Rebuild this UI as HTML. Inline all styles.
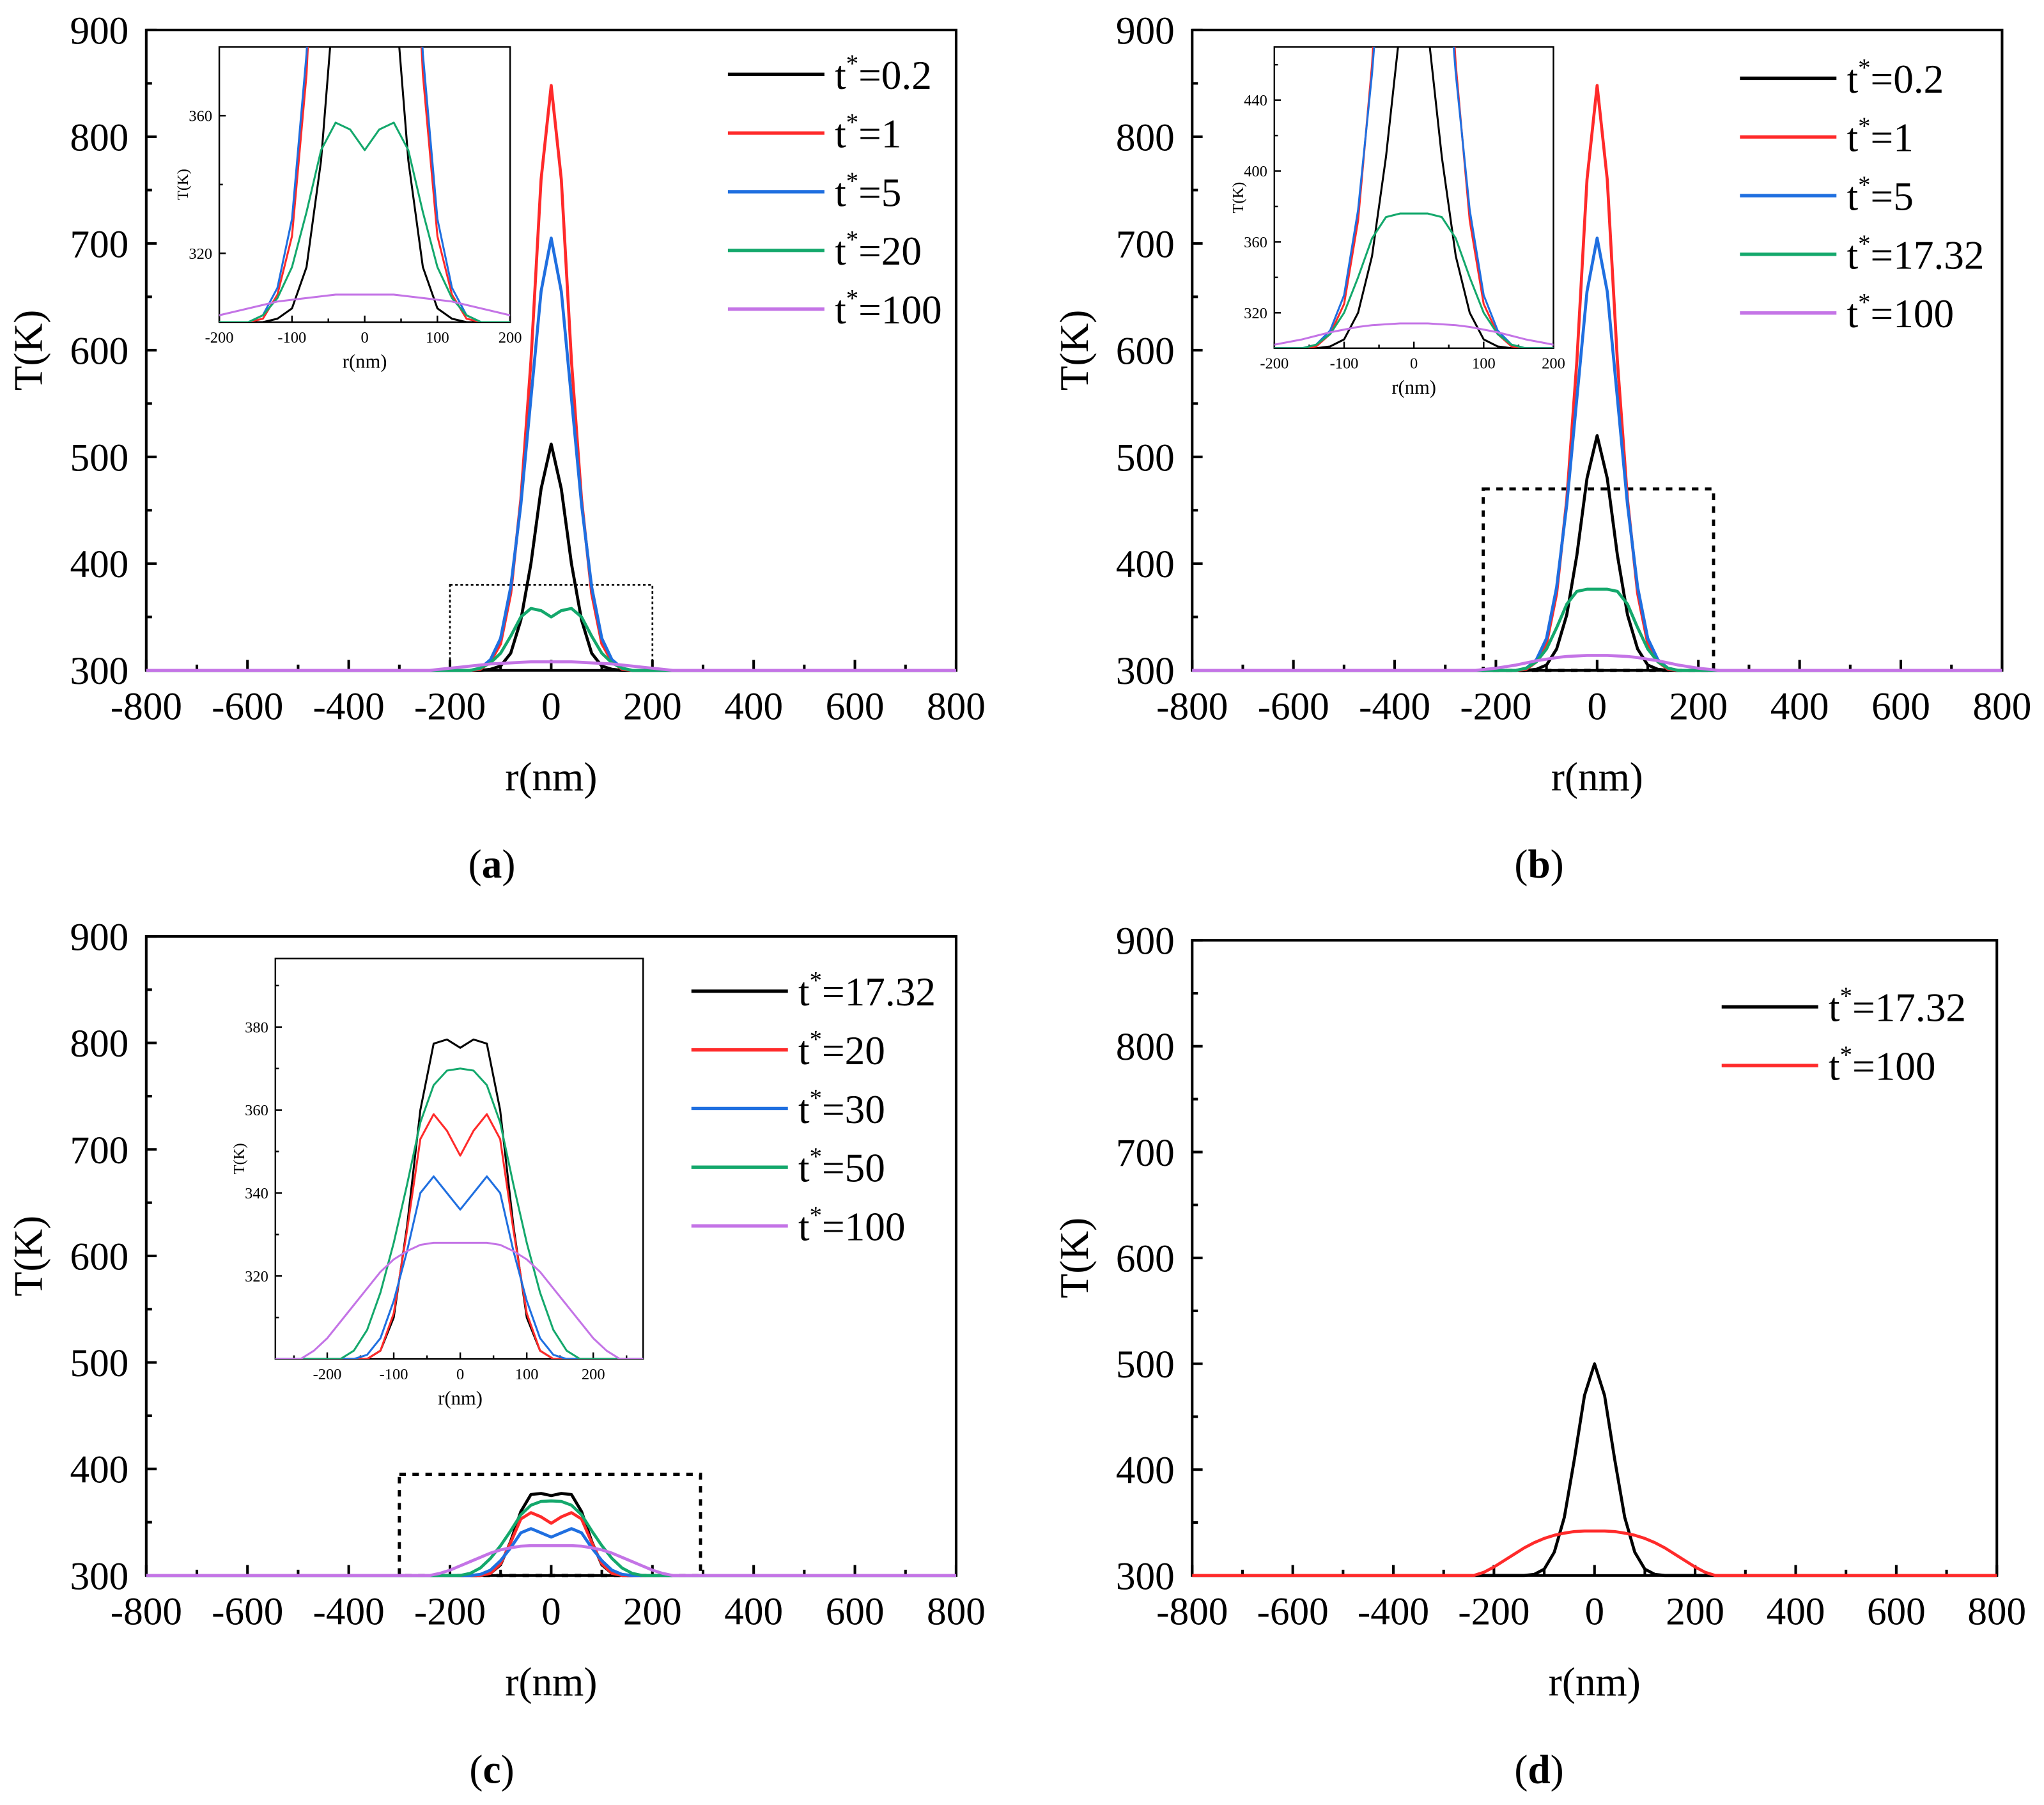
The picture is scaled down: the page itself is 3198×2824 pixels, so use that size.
<!DOCTYPE html>
<html><head><meta charset="utf-8"><style>
html,body{margin:0;padding:0;background:#fff}
svg{display:block}
svg text, svg tspan{font-family:"Liberation Serif","Times New Roman",serif !important}
</style></head><body>
<svg id="fig" xmlns="http://www.w3.org/2000/svg" width="3198" height="2824" viewBox="0 0 1567 1384" font-family="Liberation Serif, serif"></svg>
<script>
// shared r grid (nm)
const rGrid = [-800,-240,-220,-200,-180,-160,-140,-120,-100,-80,-60,-40,-20,0,20,40,60,80,100,120,140,160,180,200,220,240,800];
// panel (a)
const aT02  = [300,300,300,300,300,300,300,301,304,316,347,400,470,512,470,400,347,316,304,301,300,300,300,300,300,300,300];
const aT1   = [300,300,300,300,300,300,301,308,325,372,460,590,760,848,760,590,460,372,325,308,301,300,300,300,300,300,300];
const aT5   = [300,300,300,300,300,300,302,310,330,378,455,555,655,705,655,555,455,378,330,310,302,300,300,300,300,300,300];
const aT20  = [300,300,300,300,300,300,302,307,316,332,350,358,356,350,356,358,350,332,316,307,302,300,300,300,300,300,300];
const aT100 = [300,300,301,302,303,304,305,306,306.5,307,307.5,308,308,308,308,308,307.5,307,306.5,306,305,304,303,302,301,300,300];
// panel (b)
const bT02  = [300,300,300,300,300,300,300,301,305,320,352,408,480,520,480,408,352,320,305,301,300,300,300,300,300,300,300];
const bT1   = [300,300,300,300,300,300,301,308,325,372,460,590,760,848,760,590,460,372,325,308,301,300,300,300,300,300,300];
const bT5   = [300,300,300,300,300,300,302,310,330,378,455,555,655,705,655,555,455,378,330,310,302,300,300,300,300,300,300];
const bT1732= [300,300,300,300,300,300,302,308,320,340,362,374,376,376,376,374,362,340,320,308,302,300,300,300,300,300,300];
const bT100 = [300,300,301,302,303.5,305,307,309,310.5,312,313,313.5,314,314,314,313.5,313,312,310.5,309,307,305,303.5,302,301,300,300];
// panel (c)
const cT1732= [300,300,300,300,300,300,300,302,310,332,360,376,377,375,377,376,360,332,310,302,300,300,300,300,300,300,300];
const cT20  = [300,300,300,300,300,300,300,302,311,331,353,359,355,349,355,359,353,331,311,302,300,300,300,300,300,300,300];
const cT30  = [300,300,300,300,300,300,301,305,314,326,340,344,340,336,340,344,340,326,314,305,301,300,300,300,300,300,300];
const cT50  = [300,300,300,300,300,302,307,316,328,342,357,366,369.5,370,369.5,366,357,342,328,316,307,302,300,300,300,300,300];
const cT100 = [300,300,302,305,309,313,317,321,324,326,327.5,328,328,328,328,328,327.5,326,324,321,317,313,309,305,302,300,300];
// panel (d)
const dT1732= [300,300,300,300,300,300,300,301,306,322,355,410,470,500,470,410,355,322,306,301,300,300,300,300,300,300,300];
const dT100 = [300,300,303,308,314,320,326,331,335,338,340,341.5,342,342,342,341.5,340,338,335,331,326,320,314,308,303,300,300];
// ticks
const mainXTicks = [-800,-600,-400,-200,0,200,400,600,800];
const mainYTicks = [300,400,500,600,700,800,900];
const legendA = ["0.2","1","5","20","100"];
const legendB = ["0.2","1","5","17.32","100"];
const legendC = ["17.32","20","30","50","100"];
const legendD = ["17.32","100"];

const NS="http://www.w3.org/2000/svg";
const FF='"Liberation Serif", serif';
const svg=document.getElementById('fig');
const COL={k:"#000",r:"#ff2a2a",b:"#1f6fe0",g:"#14a86c",p:"#c474e6"};
let clipN=0;
function el(tag,attrs,parent){const e=document.createElementNS(NS,tag);for(const k in attrs)e.setAttribute(k,attrs[k]);(parent||svg).appendChild(e);return e;}
function txt(s,attrs,parent){attrs['font-family']=FF;const t=el('text',attrs,parent);t.textContent=s;return t;}

function axes(g,box,xd,yd,xt,xminor,yt,yminor,fs,tl,lw,xoff){
  const sx=v=>box.x+(v-xd[0])/(xd[1]-xd[0])*box.w;
  const sy=v=>box.y+box.h-(v-yd[0])/(yd[1]-yd[0])*box.h;
  const r=el('rect',{x:box.x,y:box.y,width:box.w,height:box.h,fill:'none',stroke:'#000','stroke-width':lw},g);
  
  xt.forEach(v=>{el('line',{x1:sx(v),x2:sx(v),y1:box.y+box.h,y2:box.y+box.h-tl,stroke:'#000','stroke-width':lw},g);
    const t=txt(String(v),{x:sx(v),y:box.y+box.h+fs*xoff,'font-size':fs,'text-anchor':'middle'},g);
    });
  xminor.forEach(v=>el('line',{x1:sx(v),x2:sx(v),y1:box.y+box.h,y2:box.y+box.h-tl*0.55,stroke:'#000','stroke-width':lw},g));
  yt.forEach(v=>{el('line',{x1:box.x,x2:box.x+tl,y1:sy(v),y2:sy(v),stroke:'#000','stroke-width':lw},g);
    const t=txt(String(v),{x:box.x-fs*0.45,y:sy(v)+fs*0.35,'font-size':fs,'text-anchor':'end'},g);
    });
  yminor.forEach(v=>el('line',{x1:box.x,x2:box.x+tl*0.55,y1:sy(v),y2:sy(v),stroke:'#000','stroke-width':lw},g));
  return {sx,sy};
}
function series(g,sc,rs,ts,color,w,name,clipBox){
  let d='';
  for(let i=0;i<rs.length;i++){d+=(i?'L':'M')+sc.sx(rs[i]).toFixed(2)+','+sc.sy(ts[i]).toFixed(2);}
  const p=el('path',{d:d,fill:'none',stroke:color,'stroke-width':w,'stroke-linejoin':'round'},g);
  
  if(clipBox){const id='cl'+(clipN++);const cp=el('clipPath',{id:id},svg);el('rect',{x:clipBox.x,y:clipBox.y,width:clipBox.w,height:clipBox.h},cp);p.setAttribute('clip-path','url(#'+id+')');}
}
function legend(g,x,y0,dy,labels,colors){
  labels.forEach((l,i)=>{const y=y0+i*dy;
    const ln=el('line',{x1:x,x2:x+74,y1:y,y2:y,stroke:colors[i],'stroke-width':2.6},g);
    
    const t=el('text',{x:x+82,y:y+11,'font-size':31,'font-family':FF},g);
    
    const a=el('tspan',{},t);a.textContent='t';
    const b=el('tspan',{dy:-13,'font-size':19},t);b.textContent='*';
    const c=el('tspan',{dy:13},t);c.textContent='='+l;});
}
function mainPanel(name,box,label,caption,list,leg,dash){
  const g=el('g',{});
  const sc=axes(g,box,[-800,800],[300,900],mainXTicks,[-700,-500,-300,-100,100,300,500,700],mainYTicks,[350,450,550,650,750,850],30,8,2,1.25);
  if(dash){const dr=el('rect',{x:sc.sx(dash[0]),y:sc.sy(dash[2]),width:sc.sx(dash[1])-sc.sx(dash[0]),height:sc.sy(300)-sc.sy(dash[2]),fill:'none',stroke:'#000','stroke-width':dash[3],'stroke-dasharray':dash[4]},g);
    }
  list.forEach(s=>series(g,sc,rGrid,s[0],s[1],2.3,'series-'+s[2]));
  const xt=txt('r(nm)',{x:box.x+box.w/2,y:box.y+box.h+92,'font-size':31,'text-anchor':'middle'},g);
  
  const cx=box.x-80,cy=box.y+box.h/2;
  const yt=txt('T(K)',{x:cx,y:cy,'font-size':31,'text-anchor':'middle',transform:'rotate(-90 '+cx+' '+cy+')'},g);
  
  const cap=el('text',{x:caption[0],y:caption[1],'font-size':31,'text-anchor':'middle','font-family':FF},g);
  
  const c1=el('tspan',{},cap);c1.textContent='(';const c2=el('tspan',{'font-weight':'bold'},cap);c2.textContent=label;const c3=el('tspan',{},cap);c3.textContent=')';
  legend(g,leg[0],leg[1],45,leg[2],list.map(s=>s[1]));
  return g;
}
function inset(g,box,xd,yd,xt,xminor,yt,yminor,list,name){
  const ig=el('g',{},g);
  el('rect',{x:box.x,y:box.y,width:box.w,height:box.h,fill:'#fff'},ig);
  const sc=axes(ig,box,xd,yd,xt,xminor,yt,yminor,12,5,1.2,1.3);
  list.forEach(s=>series(ig,sc,rGrid,s[0],s[1],1.5,'inset-series-'+s[2],box));
  const xt2=txt('r(nm)',{x:sc.sx(0),y:box.y+box.h+35,'font-size':15,'text-anchor':'middle'},ig);
  
  const cx=box.x-24,cy=box.y+box.h/2;
  const yt2=txt('T(K)',{x:cx,y:cy,'font-size':12,'text-anchor':'middle',transform:'rotate(-90 '+cx+' '+cy+')'},ig);
  
}
// Panel a
const listA=[[aT02,COL.k,'t0.2'],[aT1,COL.r,'t1'],[aT5,COL.b,'t5'],[aT20,COL.g,'t20'],[aT100,COL.p,'t100']];
const gA=mainPanel('a',{x:112,y:23,w:621,h:491},'a',[377,673],listA,[558,57,legendA],[-200,200,380,1.3,'2,2']);
inset(gA,{x:168,y:36,w:223,h:211},[-200,200],[300,380],[-200,-100,0,100,200],[-150,-50,50,150],[320,360],[340],listA,'a');
// Panel b
const listB=[[bT02,COL.k,'t0.2'],[bT1,COL.r,'t1'],[bT5,COL.b,'t5'],[bT1732,COL.g,'t17.32'],[bT100,COL.p,'t100']];
const gB=mainPanel('b',{x:914,y:23,w:621,h:491},'b',[1180,673],listB,[1334,60,legendB],[-225,230,470,2.4,'5,5']);
inset(gB,{x:977,y:36,w:214,h:231},[-200,200],[300,470],[-200,-100,0,100,200],[-150,-50,50,150],[320,360,400,440],[340,380,420,460],listB,'b');
// Panel c
const listC=[[cT1732,COL.k,'t17.32'],[cT20,COL.r,'t20'],[cT30,COL.b,'t30'],[cT50,COL.g,'t50'],[cT100,COL.p,'t100']];
const gC=mainPanel('c',{x:112,y:718,w:621,h:490},'c',[377,1367],listC,[530,760,legendC],[-300,295,395,2.4,'5,5']);
inset(gC,{x:211,y:735,w:282,h:307},[-278,275],[300,396.5],[-200,-100,0,100,200],[-250,-150,-50,50,150,250],[320,340,360,380],[310,330,350,370,390],listC,'c');
// Panel d
const listD=[[dT1732,COL.k,'t17.32'],[dT100,COL.r,'t100']];
mainPanel('d',{x:914,y:721,w:617,h:487},'d',[1180,1367],listD,[1320,772,legendD],null);
</script>
</body></html>
